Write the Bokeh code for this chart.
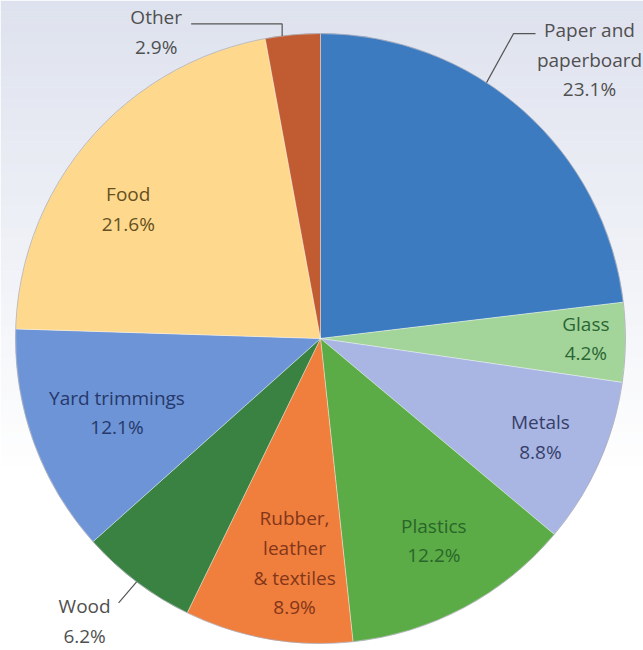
import numpy as np
from bokeh.plotting import figure
from bokeh.models import Range1d, ColumnDataSource
from bokeh.core.properties import value
from bokeh.embed import file_html
from bokeh.resources import INLINE

# ---------------- data ----------------
categories = ["Paper and\npaperboard", "Glass", "Metals", "Plastics",
              "Rubber,\nleather\n& textiles", "Wood", "Yard trimmings", "Food", "Other"]
shares = [23.1, 4.2, 8.8, 12.2, 8.9, 6.2, 12.1, 21.6, 2.9]

# ---------------- style ----------------
fill_colors = ["#3d7bc1", "#a3d59b", "#a9b5e3", "#5bac47", "#f07f3d",
               "#398241", "#6c94d6", "#fed98d", "#c05b32"]
text_colors = ["#505050", "#2b6533", "#363f6a", "#2a6629", "#83361a",
               "#505050", "#27386a", "#65501f", "#505050"]
inside = [False, True, True, True, True, False, True, True, False]
label_rfrac = [1.0, 0.87, 0.79, 0.76, 0.74, 1.0, 0.71, 0.76, 1.0]
label_dang = [-8.6, -0.7, 0.0, -1.2, -3.3, 0.0, 0.0, -6.7, -2.0]   # degrees nudge
# outside labels: leader elbow, leader end and text offsets (pixels, y up) from edge point
leader_offsets = {
    0: ((27, 49), (49, 49), (103, 23)),
    5: ((-18, -21), (-18, -21), (-52, -39)),
    8: ((0, 12), (-91, 12), (-126, 4)),
}

FONT = value("Open Sans")
R = 305.0
W, H = 643, 650

p = figure(width=W, height=H, output_backend="svg", toolbar_location=None,
           x_range=Range1d(-320, 323), y_range=Range1d(-312, 338),
           min_border=0, match_aspect=False)
p.axis.visible = False
p.grid.visible = False
p.outline_line_color = None
p.background_fill_color = "white"
p.border_fill_color = "white"

# background gradient (decoration)
top_rgb = np.array([222, 226, 238])
n = 60
ys = np.linspace(338, -312, n + 1)
for i in range(n):
    t = min(1.0, (338 - ys[i]) / 470.0)
    c = top_rgb + (255 - top_rgb) * t
    p.quad(left=-320, right=323, top=ys[i], bottom=ys[i + 1] - 0.5,
           fill_color="#%02x%02x%02x" % tuple(int(round(v)) for v in c),
           line_color=None)

# wedges
frac = np.array(shares) / sum(shares)
cum_end = np.cumsum(frac)
cum_start = cum_end - frac
start_angle = np.pi / 2 - 2 * np.pi * cum_start
end_angle = np.pi / 2 - 2 * np.pi * cum_end
src = ColumnDataSource(dict(start=start_angle, end=end_angle, color=fill_colors))
p.wedge(x=0, y=0, radius=R, start_angle="start", end_angle="end", direction="clock",
        fill_color="color", line_color="white", line_alpha=0.35, line_width=1, source=src)
p.circle(x=0, y=0, radius=R, fill_color=None, line_color="#9a9aa8", line_alpha=0.6, line_width=1)

# labels
mid = (cum_start + frac / 2) * 360.0  # clockwise from top, degrees
for i, cat in enumerate(categories):
    txt = f"{cat}\n{shares[i]:.1f}%"
    a = np.radians(mid[i] + label_dang[i])
    if inside[i]:
        r = label_rfrac[i] * R
        x, y = r * np.sin(a), r * np.cos(a)
    else:
        ex, ey = R * np.sin(a), R * np.cos(a)
        (e1, e2, tx) = leader_offsets[i]
        p.line([ex, ex + e1[0], ex + e2[0]], [ey, ey + e1[1], ey + e2[1]],
               line_color="#555555", line_width=1.2)
        x, y = ex + tx[0], ey + tx[1]
    p.text(x=[x], y=[y], text=[txt], text_font=FONT, text_font_size="19px",
           text_align="center", text_baseline="middle", text_line_height=1.14,
           text_color=text_colors[i])

open("out.html", "w").write(file_html(p, INLINE))
